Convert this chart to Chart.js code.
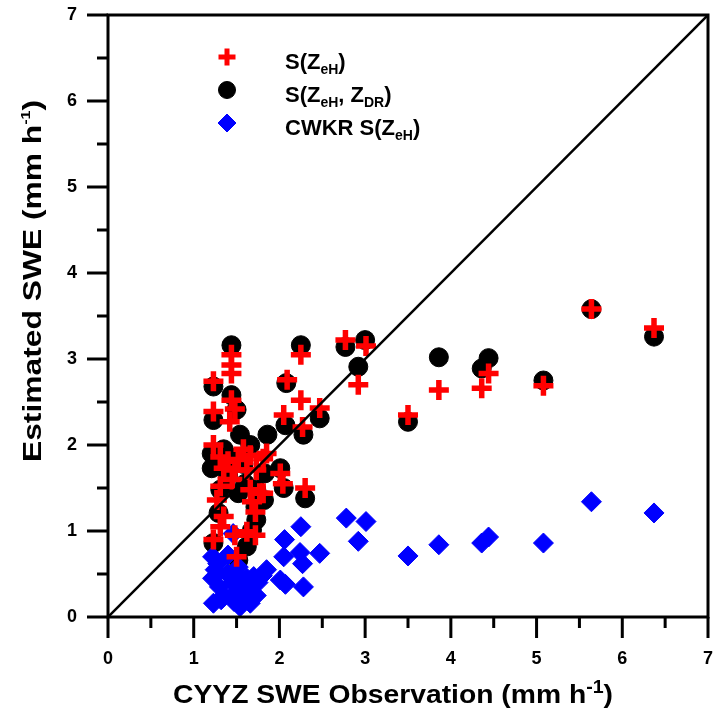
<!DOCTYPE html>
<html>
<head>
<meta charset="utf-8">
<script src="https://cdn.jsdelivr.net/npm/chart.js@4.4.1/dist/chart.umd.min.js"></script>
<style>
  body { margin: 0; background: #fff; }
  canvas { display: block; }
</style>
</head>
<body>
<canvas id="myChart" width="713" height="723"></canvas>
<script>
// S(ZeH) - red crosses
const sZehX = [1.44, 1.44, 1.44, 1.23, 1.44, 1.48, 1.23, 1.42, 1.23, 1.31, 1.40, 1.52, 1.66, 1.81, 1.35, 1.48,
    1.62, 1.73, 1.31, 1.66, 1.77, 1.27, 1.68, 1.72, 1.35, 1.31, 1.48, 1.62, 1.72, 1.23, 1.50, 1.85, 2.01, 2.04,
    1.81, 2.30, 2.27, 2.05, 2.25, 2.47, 2.09, 2.25, 2.77, 3.01, 2.92, 3.50, 3.86, 4.36, 4.44, 5.08, 5.64, 6.37,
    1.58, 1.45]
const sZehY = [3.05, 2.93, 2.83, 2.74, 2.52, 2.42, 2.39, 2.27, 2.00, 1.86, 1.81, 1.83, 1.88, 1.84, 1.73, 1.71,
    1.71, 1.71, 1.52, 1.48, 1.44, 1.36, 1.34, 1.22, 1.17, 1.05, 0.95, 0.99, 0.95, 0.90, 0.70, 1.90, 1.67, 1.55,
    1.44, 1.50, 2.21, 2.35, 2.52, 2.43, 2.76, 3.05, 3.22, 3.15, 2.70, 2.35, 2.64, 2.66, 2.83, 2.69, 3.58, 3.36,
    1.95, 1.60]

// S(ZeH, ZDR) - black circles
const sZdrX = [1.44, 1.23, 1.44, 1.50, 1.23, 1.54, 1.21, 1.66, 1.21, 1.31, 1.52, 1.73, 1.29, 1.72, 1.73, 1.23,
    1.62, 1.52, 1.68, 1.35, 1.45, 1.58, 1.40, 1.60, 1.86, 1.83, 2.01, 2.05, 1.82, 2.30, 2.28, 2.07, 2.47, 2.08,
    2.25, 2.77, 3.00, 2.92, 3.50, 3.86, 4.36, 4.44, 5.08, 5.64, 6.37]
const sZdrY = [3.16, 2.68, 2.58, 2.41, 2.29, 2.12, 1.90, 2.00, 1.73, 1.48, 1.44, 1.48, 1.21, 1.28, 1.13, 0.86,
    0.82, 0.66, 1.01, 1.95, 1.85, 1.78, 1.65, 1.55, 2.12, 1.67, 1.73, 1.50, 1.36, 1.38, 2.12, 2.23, 2.31, 2.72,
    3.16, 3.14, 3.22, 2.91, 2.27, 3.02, 2.89, 3.01, 2.75, 3.58, 3.26]

// CWKR S(ZeH) - blue diamonds
const cwkrX = [1.46, 1.25, 1.22, 1.23, 1.54, 1.66, 1.70, 1.85, 2.01, 2.06, 2.05, 2.24, 2.25, 2.27, 2.28, 2.07,
    2.47, 2.78, 3.01, 2.92, 3.50, 3.86, 4.36, 4.44, 5.08, 5.64, 6.37, 1.30, 1.35, 1.40, 1.45, 1.50, 1.55, 1.60,
    1.65, 1.58, 1.75, 1.80, 1.73, 1.28, 1.40, 1.52, 1.62, 1.32, 1.47, 1.22]
const cwkrY = [0.97, 0.55, 0.45, 0.16, 0.12, 0.16, 0.47, 0.55, 0.43, 0.90, 0.70, 0.75, 1.05, 0.62, 0.35, 0.38,
    0.74, 1.15, 1.11, 0.88, 0.71, 0.84, 0.86, 0.93, 0.86, 1.34, 1.21, 0.35, 0.25, 0.50, 0.40, 0.30, 0.45, 0.35,
    0.28, 0.22, 0.40, 0.48, 0.25, 0.62, 0.72, 0.58, 0.45, 0.20, 0.18, 0.70]

const oneToOne = [0, 7]
const axisMin = 0
const axisMax = 7

const toPoints = (xs, ys) => xs.map((x, i) => ({ x: x, y: ys[i] }))

const FONT = "'Liberation Sans', Arial, Helvetica, sans-serif"

// draws a run of text pieces (normal / sub / sup) starting at x, baseline y
function drawRich(ctx, parts, x, y, targetWidth) {
    let total = 0
    parts.forEach(p => {
        ctx.font = 'bold ' + p.size + 'px ' + FONT
        p.w = ctx.measureText(p.t).width
        total += p.w
    })
    ctx.save()
    ctx.translate(x, y)
    if (targetWidth) ctx.scale(targetWidth / total, 1)
    let cx = 0
    parts.forEach(p => {
        ctx.font = 'bold ' + p.size + 'px ' + FONT
        ctx.fillText(p.t, cx, p.dy || 0)
        cx += p.w
    })
    ctx.restore()
    return total
}

const framePlugin = {
    id: 'frame',
    afterDraw(chart) {
        const ctx = chart.ctx
        const { left, right, top, bottom } = chart.chartArea
        const xs = chart.scales.x
        const ys = chart.scales.y
        ctx.save()
        ctx.strokeStyle = '#000'
        ctx.lineWidth = 3
        ctx.lineCap = 'butt'
        ctx.strokeRect(left, top, right - left, bottom - top)

        // outward ticks, major every 1, minor every 0.5
        for (let v = axisMin; v <= axisMax + 0.001; v += 0.5) {
            const len = (v % 1 === 0) ? 21 : 11
            const px = xs.getPixelForValue(v)
            const py = ys.getPixelForValue(v)
            ctx.beginPath()
            ctx.moveTo(px, bottom)
            ctx.lineTo(px, bottom + len)
            ctx.moveTo(left, py)
            ctx.lineTo(left - len, py)
            ctx.stroke()
        }

        // axis titles
        ctx.fillStyle = '#000'
        ctx.textBaseline = 'alphabetic'
        ctx.textAlign = 'left'
        drawRich(ctx, [
            { t: 'CYYZ SWE Observation (mm h', size: 26 },
            { t: '-1', size: 18, dy: -10 },
            { t: ')', size: 26 }
        ], 173, 703, 440)

        ctx.save()
        ctx.translate(41, 462)
        ctx.rotate(-Math.PI / 2)
        drawRich(ctx, [
            { t: 'Estimated SWE (mm h', size: 26 },
            { t: '-1', size: 13, dy: -11 },
            { t: ')', size: 26 }
        ], 0, 0, 362)
        ctx.restore()

        // legend
        const H = Chart.helpers
        const lx = 227
        ctx.strokeStyle = '#ff0000'
        ctx.lineWidth = 5
        H.drawPoint(ctx, { pointStyle: 'cross', radius: 8.5, rotation: 0, borderWidth: 5 }, lx, 57)
        ctx.fillStyle = '#000'
        ctx.strokeStyle = '#000'
        ctx.lineWidth = 1
        H.drawPoint(ctx, { pointStyle: 'circle', radius: 8.5, rotation: 0, borderWidth: 1 }, lx, 90)
        ctx.fillStyle = '#0000ff'
        ctx.strokeStyle = '#0000ff'
        H.drawPoint(ctx, { pointStyle: 'rectRot', radius: 9, rotation: 0, borderWidth: 1 }, lx, 123)

        ctx.fillStyle = '#000'
        const sub = (t) => ({ t: t, size: 14, dy: 5 })
        const big = (t) => ({ t: t, size: 22 })
        drawRich(ctx, [big('S(Z'), sub('eH'), big(')')], 285, 69)
        drawRich(ctx, [big('S(Z'), sub('eH'), big(', Z'), sub('DR'), big(')')], 285, 102)
        drawRich(ctx, [big('CWKR S(Z'), sub('eH'), big(')')], 285, 135)
        ctx.restore()
    }
}

const el = document.getElementById('myChart')

const data = {
    datasets: [
        {
            type: 'line',
            data: toPoints(oneToOne, oneToOne),
            borderColor: '#000',
            borderWidth: 2.5,
            pointRadius: 0,
            fill: false
        },
        {
            label: 'S(ZeH)',
            data: toPoints(sZehX, sZehY),
            pointStyle: 'cross',
            pointRadius: 10,
            borderColor: '#ff0000',
            backgroundColor: '#ff0000',
            pointBorderWidth: 5.5
        },
        {
            label: 'CWKR S(ZeH)',
            data: toPoints(cwkrX, cwkrY),
            pointStyle: 'rectRot',
            pointRadius: 10,
            borderColor: '#0000ff',
            backgroundColor: '#0000ff',
            pointBorderWidth: 1
        },
        {
            label: 'S(ZeH, ZDR)',
            data: toPoints(sZdrX, sZdrY),
            pointStyle: 'circle',
            pointRadius: 9.5,
            borderColor: '#000',
            backgroundColor: '#000',
            pointBorderWidth: 1
        }
    ]
}

const tickFont = { family: FONT, size: 18, weight: 'bold' }

// fixed axis box: plot area 108..708 x 15..617
const noPad = (scale) => {
    scale.paddingLeft = 0
    scale.paddingRight = 0
    scale.paddingTop = 0
    scale.paddingBottom = 0
}

const config = {
    type: 'scatter',
    data: data,
    options: {
        responsive: false,
        animation: false,
        events: [],
        layout: { autoPadding: false, padding: { top: 15, right: 5, left: 0, bottom: 0 } },
        plugins: {
            legend: { display: false },
            tooltip: { enabled: false }
        },
        scales: {
            x: {
                type: 'linear',
                min: axisMin,
                max: axisMax,
                grid: { display: false, drawTicks: false },
                border: { display: false },
                ticks: { stepSize: 1, color: '#000', font: tickFont, padding: 31, maxRotation: 0 },
                afterFit: (scale) => { scale.height = 106; noPad(scale) }
            },
            y: {
                type: 'linear',
                min: axisMin,
                max: axisMax,
                grid: { display: false, drawTicks: false },
                border: { display: false },
                ticks: { stepSize: 1, color: '#000', font: tickFont, padding: 31 },
                afterFit: (scale) => { scale.width = 108; noPad(scale) }
            }
        }
    },
    plugins: [framePlugin]
}

const myChart = new Chart(el, config)
</script>
</body>
</html>
